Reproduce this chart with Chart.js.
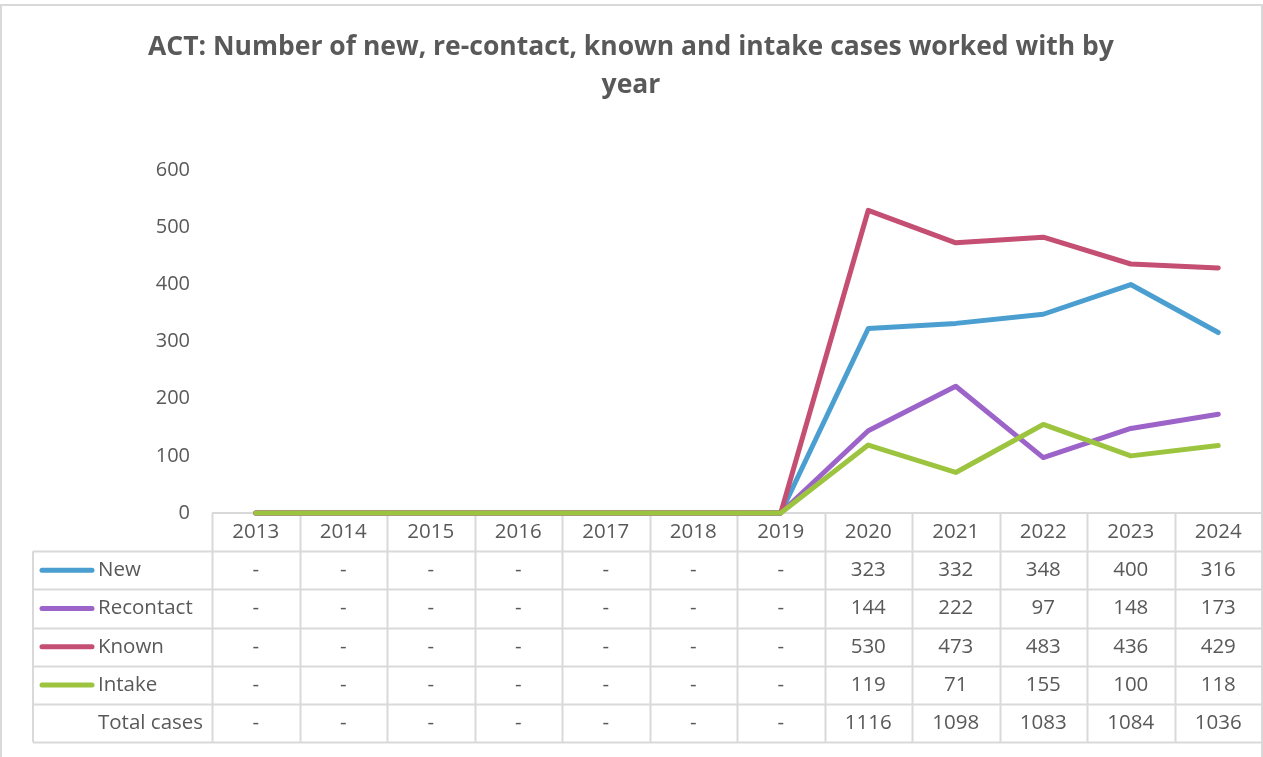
<!DOCTYPE html>
<html>
<head>
<meta charset="utf-8">
<script src="https://cdn.jsdelivr.net/npm/chart.js@4"></script>
<style>
html,body{margin:0;padding:0;background:#fff;}
#wrap{width:1263px;height:757px;position:relative;}
</style>
</head>
<body>
<div id="wrap"><canvas id="c" width="1263" height="757"></canvas></div>
<script>
const titleLines = ["ACT: Number of new, re-contact, known and intake cases worked with by", "year"];
const years = ["2013","2014","2015","2016","2017","2018","2019","2020","2021","2022","2023","2024"];
const newCases = [0,0,0,0,0,0,0,323,332,348,400,316];
const recontact = [0,0,0,0,0,0,0,144,222,97,148,173];
const known = [0,0,0,0,0,0,0,530,473,483,436,429];
const intake = [0,0,0,0,0,0,0,119,71,155,100,118];
const totalCases = [0,0,0,0,0,0,0,1116,1098,1083,1084,1036];
const seriesNames = ["New","Recontact","Known","Intake"];
const totalLabel = "Total cases";
const yTicks = [0,100,200,300,400,500,600];

const colors = ["#4A9FD0","#9C63C9","#C44F73","#9CC43F"];
const FONT = "'Open Sans', Lato, sans-serif";
const TXT = "#595959";
const GRID = "#D9D9D9";

const tablePlugin = {
  id: 'dataTable',
  beforeDraw(chart) {
    const ctx = chart.ctx;
    ctx.save();
    ctx.fillStyle = '#fff';
    ctx.fillRect(0,0,chart.width,chart.height);
    ctx.strokeStyle = GRID;
    ctx.lineWidth = 2;
    ctx.beginPath();
    ctx.moveTo(1, chart.height); ctx.lineTo(1, 5); ctx.lineTo(1262, 5); ctx.lineTo(1262, chart.height);
    ctx.stroke();
    ctx.restore();
  },
  beforeDatasetsDraw(chart) {
    const ctx = chart.ctx;
    const xs = chart.scales.x;
    const area = chart.chartArea;
    const n = years.length;
    const colW = (area.right - area.left) / n;
    const rowH = 38.2;
    const top = area.bottom;
    const tableLeft = 33;
    const rows = [newCases, recontact, known, intake, totalCases];
    const labels = seriesNames.concat([totalLabel]);
    const bottom = top + rowH * (rows.length + 1);
    ctx.save();
    ctx.strokeStyle = GRID;
    ctx.lineWidth = 2;
    ctx.beginPath();
    ctx.moveTo(area.left, top); ctx.lineTo(area.right, top);
    for (let r = 1; r <= rows.length + 1; r++) {
      const y = Math.round(top + rowH * r) + 0.5;
      ctx.moveTo(tableLeft, y); ctx.lineTo(area.right, y);
    }
    ctx.moveTo(tableLeft, top + rowH); ctx.lineTo(tableLeft, bottom);
    for (let i = 0; i <= n; i++) {
      const cx = i < n ? xs.getPixelForValue(i) - colW/2 : xs.getPixelForValue(n-1) + colW/2;
      const x = Math.round(cx) + 0.5;
      ctx.moveTo(x, top); ctx.lineTo(x, bottom);
    }
    ctx.stroke();

    ctx.fillStyle = TXT;
    ctx.font = "20.5px " + FONT;
    ctx.textAlign = 'center';
    ctx.textBaseline = 'middle';
    for (let i = 0; i < n; i++) {
      const x = xs.getPixelForValue(i);
      ctx.fillText(years[i], x, top + rowH/2);
      rows.forEach((arr, r) => {
        const y = top + rowH * (r + 1.5);
        ctx.fillText(arr[i] === 0 ? '-' : String(arr[i]), x, y);
      });
    }
    ctx.textAlign = 'left';
    labels.forEach((lab, r) => {
      const y = top + rowH * (r + 1.5);
      if (r < colors.length) {
        ctx.strokeStyle = colors[r];
        ctx.lineWidth = 5;
        ctx.lineCap = 'round';
        ctx.beginPath();
        ctx.moveTo(42, y); ctx.lineTo(92, y);
        ctx.stroke();
      }
      ctx.fillText(lab, 98, y);
    });
    ctx.restore();
  }
};

function ds(label, data, idx, order) {
  return {
    label, data,
    borderColor: colors[idx],
    backgroundColor: colors[idx],
    borderWidth: 5,
    pointRadius: 0,
    tension: 0,
    borderCapStyle: 'round',
    borderJoinStyle: 'round',
    clip: false,
    order
  };
}

new Chart(document.getElementById('c'), {
  type: 'line',
  data: {
    labels: years,
    datasets: [
      ds(seriesNames[0], newCases, 0, 4),
      ds(seriesNames[1], recontact, 1, 3),
      ds(seriesNames[2], known, 2, 2),
      ds(seriesNames[3], intake, 3, 1)
    ]
  },
  options: {
    responsive: false,
    animation: false,
    devicePixelRatio: 1,
    layout: { padding: { left: 0, right: 1, top: 0, bottom: 244 } },
    plugins: {
      legend: { display: false },
      tooltip: { enabled: false },
      title: {
        display: true,
        text: titleLines,
        color: TXT,
        font: { family: FONT, size: 26.5, weight: 'bold', lineHeight: 1.44 },
        padding: { top: 28, bottom: 66 }
      }
    },
    scales: {
      x: {
        type: 'category',
        offset: true,
        display: false
      },
      y: {
        min: 0, max: 600,
        afterFit(scale) { scale.width = 212; },
        afterBuildTicks(scale) { scale.ticks = yTicks.map(v => ({ value: v })); },
        grid: { display: false, drawTicks: false },
        border: { display: false },
        ticks: { color: TXT, font: { family: FONT, size: 20 }, padding: 22 }
      }
    }
  },
  plugins: [tablePlugin]
});
</script>
</body>
</html>
